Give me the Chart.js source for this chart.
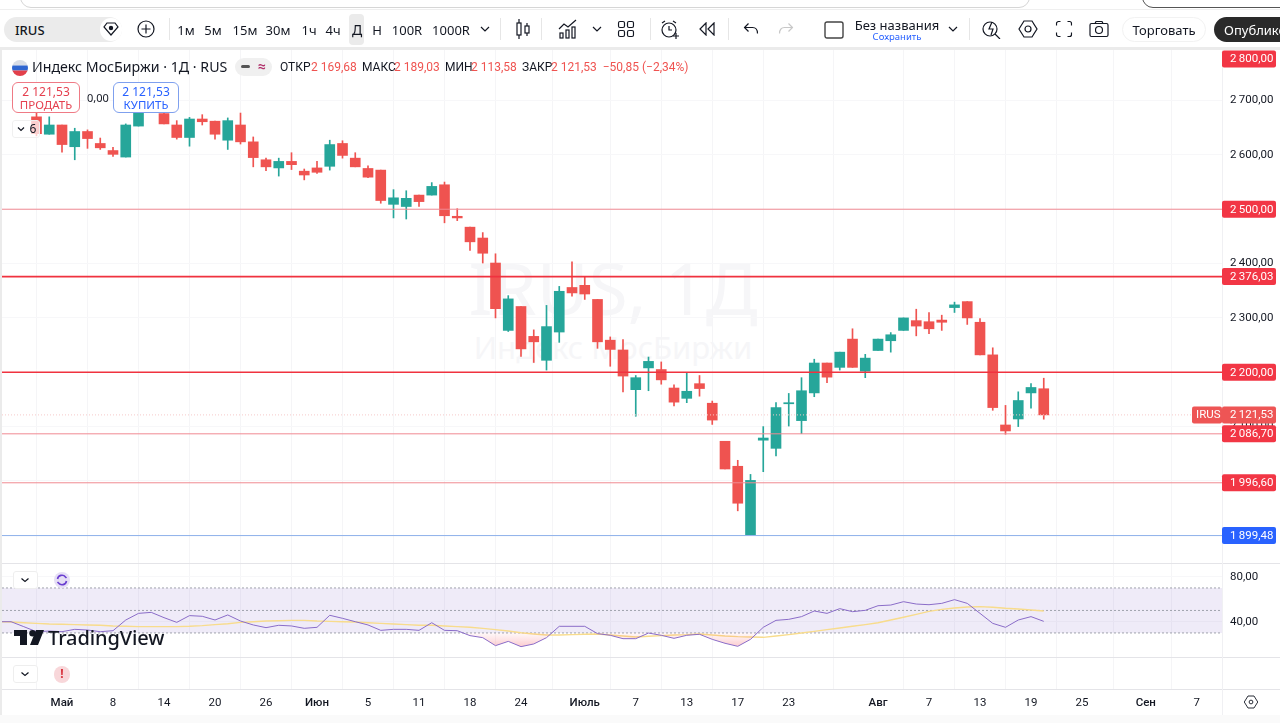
<!DOCTYPE html>
<html lang="ru">
<head>
<meta charset="utf-8">
<title>IRUS</title>
<script src="https://cdn.jsdelivr.net/npm/chart.js@4"></script>
<style>
  html, body { margin: 0; padding: 0; width: 1280px; height: 723px; overflow: hidden; background: #fff; }
  body { font-family: "Noto Sans", Roboto, sans-serif; color: #131722; position: relative; }
  canvas#chart { position: absolute; left: 0; top: 50px; z-index: 2; }
  .abs { position: absolute; }
  .t { position: absolute; transform: translate(-50%, -50%); white-space: nowrap; font-size: 13px; line-height: 1; z-index: 5; }
  .l { position: absolute; transform: translateY(-50%); white-space: nowrap; font-size: 12px; line-height: 1; z-index: 5; }
  .ic { position: absolute; transform: translate(-50%, -50%); z-index: 5; fill: none; stroke: #131722; stroke-width: 1.2; }
  .sep { position: absolute; top: 18px; width: 1px; height: 22px; background: #e6e6e6; z-index: 5; }
  .wm { position: absolute; transform: translate(-50%, -50%); white-space: nowrap; color: #f6f6f8; z-index: 1; }
  .red { color: #ef5350; }
  .ohlc { font-family: Roboto, sans-serif; }
  .order { position: absolute; top: 82px; height: 31px; background: #fff; border-radius: 6px; z-index: 5; box-sizing: border-box; text-align: center; font-size: 11.5px; line-height: 13px; padding-top: 2px; }
</style>
</head>
<body>

<!-- browser strip -->
<div class="abs" style="left:20px;top:-14px;width:1008px;height:20px;border:1px solid #d6d6d6;border-radius:12px"></div>
<div class="abs" style="left:1142px;top:-14px;width:160px;height:20px;border:1px solid #555;border-radius:12px"></div>
<div class="abs" style="left:0;top:9px;width:1280px;height:1px;background:#efefef"></div>
<div class="abs" style="left:0;top:47px;width:1280px;height:3px;background:#ebebeb"></div>
<div class="abs" style="left:0;top:47px;width:2px;height:676px;background:#ebebeb;z-index:3"></div>

<!-- toolbar -->
<div class="abs" style="left:4px;top:17px;width:118px;height:25px;background:#ebebeb;border-radius:13px"></div>
<div class="l" style="left:15px;top:29.5px;font-size:13px;font-weight:500">IRUS</div>
<div class="abs" style="left:100px;top:18px;width:22px;height:23px;background:#fff;border-radius:12px;z-index:4"></div>
<svg class="ic" style="left:111px;top:29px" width="16" height="14" viewBox="0 0 16 14"><path d="M4 1h8l3 4-7 8-7-8z"/><circle cx="8" cy="6" r="1.6" fill="#131722"/></svg>
<svg class="ic" style="left:146px;top:29px" width="18" height="18" viewBox="0 0 18 18"><circle cx="9" cy="9" r="8"/><path d="M9 4.5v9M4.5 9h9"/></svg>
<div class="sep" style="left:169px"></div>
<div class="t" style="left:186px;top:29.5px">1м</div>
<div class="t" style="left:213px;top:29.5px">5м</div>
<div class="t" style="left:245px;top:29.5px">15м</div>
<div class="t" style="left:278px;top:29.5px">30м</div>
<div class="t" style="left:309px;top:29.5px">1ч</div>
<div class="t" style="left:333px;top:29.5px">4ч</div>
<div class="abs" style="left:349px;top:14px;width:15px;height:31px;background:#ebebeb;border-radius:4px"></div>
<div class="t" style="left:357px;top:30px;font-size:14px">Д</div>
<div class="t" style="left:377px;top:29.5px">Н</div>
<div class="t" style="left:407px;top:29.5px">100R</div>
<div class="t" style="left:451px;top:29.5px">1000R</div>
<svg class="ic" style="left:485px;top:29px" width="10" height="6" viewBox="0 0 10 6"><path d="M1 1l4 4 4-4"/></svg>
<div class="sep" style="left:500px"></div>
<svg class="ic" style="left:523px;top:29px" width="16" height="22" viewBox="0 0 16 22"><path d="M4 1v20M12 5v13"/><rect x="2" y="5" width="4" height="12" fill="#fff"/><rect x="10" y="8" width="4" height="7" fill="#fff"/></svg>
<div class="sep" style="left:541px"></div>
<svg class="ic" style="left:568px;top:29px" width="20" height="20" viewBox="0 0 20 20"><path d="M1 10l5-5 4 3 8-7"/><rect x="2" y="14" width="3" height="5"/><rect x="8" y="11" width="3" height="8"/><rect x="14" y="8" width="3" height="11"/></svg>
<svg class="ic" style="left:597px;top:29px" width="10" height="6" viewBox="0 0 10 6"><path d="M1 1l4 4 4-4"/></svg>
<svg class="ic" style="left:626px;top:29px" width="17" height="17" viewBox="0 0 17 17"><rect x="1" y="1" width="6" height="6" rx="1.5"/><rect x="10" y="1" width="6" height="6" rx="1.5"/><rect x="1" y="10" width="6" height="6" rx="1.5"/><rect x="10" y="10" width="6" height="6" rx="1.5"/></svg>
<div class="sep" style="left:650px"></div>
<svg class="ic" style="left:670px;top:30px" width="20" height="20" viewBox="0 0 20 20"><circle cx="9" cy="10" r="7"/><path d="M9 6v4h3M2 3l3-2M16 3l-3-2M13 16h6M16 13v6"/></svg>
<svg class="ic" style="left:707px;top:29px" width="16" height="14" viewBox="0 0 16 14"><path d="M7 1L1 7l6 6zM15 1L9 7l6 6z"/></svg>
<div class="sep" style="left:728px"></div>
<svg class="ic" style="left:751px;top:29px" width="15" height="13" viewBox="0 0 15 13"><path d="M5 1L1 5l4 4M1 5h8c3 0 5 2 5 6"/></svg>
<svg class="ic" style="left:786px;top:29px;stroke:#c8c8c8" width="15" height="13" viewBox="0 0 15 13"><path d="M10 1l4 4-4 4M14 5H6c-3 0-5 2-5 6"/></svg>
<svg class="ic" style="left:834px;top:30px;stroke:#444;stroke-width:1.4" width="20" height="18" viewBox="0 0 20 18"><rect x="1" y="1" width="18" height="16" rx="2"/></svg>
<div class="t" style="left:897px;top:25px">Без названия</div>
<div class="t" style="left:897px;top:37px;font-size:9.5px;color:#2962ff">Сохранить</div>
<svg class="ic" style="left:953px;top:29px" width="10" height="6" viewBox="0 0 10 6"><path d="M1 1l4 4 4-4"/></svg>
<div class="sep" style="left:969px"></div>
<svg class="ic" style="left:992px;top:29px" width="20" height="20" viewBox="0 0 20 20"><circle cx="8" cy="10" r="7"/><path d="M13 15l5 5M10 3L7 10h4l-2 6"/></svg>
<svg class="ic" style="left:1028px;top:29px" width="20" height="20" viewBox="0 0 20 20"><path d="M6 2h8l5 8-5 8H6l-5-8z"/><circle cx="10" cy="10" r="3"/></svg>
<svg class="ic" style="left:1064px;top:29px" width="17" height="17" viewBox="0 0 17 17"><path d="M1 5V3a2 2 0 0 1 2-2h2M12 1h2a2 2 0 0 1 2 2v2M16 12v2a2 2 0 0 1-2 2h-2M5 16H3a2 2 0 0 1-2-2v-2"/></svg>
<svg class="ic" style="left:1099px;top:29px" width="20" height="17" viewBox="0 0 20 17"><rect x="1" y="3" width="18" height="13" rx="1.5"/><circle cx="10" cy="9.5" r="3.5"/><path d="M6 3l1-2h6l1 2"/></svg>
<div class="abs" style="left:1122px;top:17px;width:84px;height:25px;border:1px solid #f2f2f2;border-radius:13px;box-sizing:border-box"></div>
<div class="t" style="left:1164px;top:29.5px">Торговать</div>
<div class="abs" style="left:1214px;top:17px;width:80px;height:25px;background:#2a2a2a;border-radius:13px;z-index:4"></div>
<div class="l" style="left:1224px;top:29.5px;color:#fff;font-size:13px">Опублико</div>

<!-- watermark -->
<div class="wm" style="left:613px;top:287px;font-size:71px">IRUS, 1Д</div>
<div class="wm" style="left:613px;top:347px;font-size:31px">Индекс МосБиржи</div>

<!-- legend -->
<svg class="abs" style="left:12px;top:60px;z-index:5" width="16" height="16" viewBox="0 0 16 16"><clipPath id="fl"><circle cx="8" cy="8" r="8"/></clipPath><g clip-path="url(#fl)"><rect width="16" height="5.5" fill="#d8dde6"/><rect y="5.5" width="16" height="5" fill="#2f66d0"/><rect y="10.5" width="16" height="6" fill="#e2404a"/></g></svg>
<div class="l" style="left:32px;top:67px;font-size:14.2px">Индекс МосБиржи · 1Д · RUS</div>
<div class="abs" style="left:235px;top:58px;width:37px;height:18px;background:#f0f0f0;border-radius:9px;z-index:4"></div>
<div class="abs" style="left:241px;top:65px;width:9px;height:3px;background:#555;border-radius:2px;z-index:5"></div>
<div class="t" style="left:262px;top:66px;font-size:14px;color:#b0306a;font-weight:700">≈</div>
<div class="l ohlc" style="left:280px;top:67px">ОТКР</div><div class="l ohlc red" style="left:311px;top:67px">2 169,68</div>
<div class="l ohlc" style="left:362px;top:67px">МАКС</div><div class="l ohlc red" style="left:394px;top:67px">2 189,03</div>
<div class="l ohlc" style="left:445px;top:67px">МИН</div><div class="l ohlc red" style="left:471px;top:67px">2 113,58</div>
<div class="l ohlc" style="left:522px;top:67px">ЗАКР</div><div class="l ohlc red" style="left:551px;top:67px">2 121,53 &nbsp;−50,85 (−2,34%)</div>

<!-- sell / buy -->
<div class="order" style="left:12px;width:68px;border:1px solid #ef7a85;color:#e5404f"><span style="font-size:12px">2 121,53</span><br>ПРОДАТЬ</div>
<div class="l" style="left:87px;top:97px;font-size:11px">0,00</div>
<div class="order" style="left:113px;width:66px;border:1px solid #7fa0ee;color:#2962ff"><span style="font-size:12px">2 121,53</span><br>КУПИТЬ</div>
<div class="abs" style="left:12px;top:120px;width:28px;height:18px;background:rgba(255,255,255,.72);border:1px solid #f0f0f0;box-sizing:border-box;border-radius:3px;z-index:5"></div>
<svg class="ic" style="left:21px;top:129px" width="8" height="5" viewBox="0 0 8 5"><path d="M1 1l3 3 3-3"/></svg>
<div class="t" style="left:33px;top:129px;font-size:12px">6</div>

<!-- pane controls -->
<div class="abs" style="left:13px;top:571px;width:25px;height:18px;background:#fff;border:1px solid #eee;box-sizing:border-box;border-radius:3px;z-index:5"></div>
<svg class="ic" style="left:25px;top:580px" width="9" height="5" viewBox="0 0 9 5"><path d="M1 1l3.5 3 3.5-3"/></svg>
<div class="abs" style="left:54px;top:572px;width:16px;height:16px;background:#e5def5;border-radius:8px;z-index:4"></div>
<svg class="ic" style="left:62px;top:580px;stroke:#6a3fd0;stroke-width:1.6" width="12" height="12" viewBox="0 0 12 12"><path d="M1.5 5a4.5 4.5 0 0 1 8-2l1 1M10.5 7a4.5 4.5 0 0 1-8 2l-1-1"/></svg>
<div class="abs" style="left:13px;top:665px;width:25px;height:18px;background:#fff;border:1px solid #eee;box-sizing:border-box;border-radius:3px;z-index:5"></div>
<svg class="ic" style="left:25px;top:674px" width="9" height="5" viewBox="0 0 9 5"><path d="M1 1l3.5 3 3.5-3"/></svg>
<div class="abs" style="left:54px;top:666px;width:16px;height:17px;background:#f8d7da;border-radius:8px;z-index:4"></div>
<div class="t" style="left:62px;top:674px;font-size:12px;font-weight:700;color:#d8343f">!</div>

<!-- logo -->
<svg class="abs" style="left:14px;top:630px;z-index:5" width="30" height="15" viewBox="0 0 30 15"><path d="M0 0h13v15H6V6H0zM16 15L22 0h8l-6 15z" fill="#131722"/><circle cx="18.5" cy="3.2" r="3.2" fill="#131722"/></svg>
<div class="l" style="left:48px;top:638px;font-size:20px;font-weight:500;letter-spacing:-.1px">TradingView</div>

<!-- bottom right settings -->
<svg class="ic" style="left:1251px;top:702px" width="15" height="15" viewBox="0 0 20 20"><path d="M6 2h8l5 8-5 8H6l-5-8z"/><circle cx="10" cy="10" r="2.5"/></svg>
<div class="abs" style="left:0;top:715px;width:1280px;height:8px;background:#fafafa;z-index:3"></div>

<canvas id="chart" width="1280" height="673"></canvas>

<script>
// свечи, первая свеча имеет номер firstBar
const firstBar = -2;
const opens = [2670,2638,2655,2615,2643,2621,2608,2596,2653,2680,2676,2655,2632,2666,2662,2627,2655,2624,2591,2576,2588,2570,2576,2579,2621,2594,2575,2572,2509,2505,2526,2526,2545,2487,2467,2447,2401,2277,2321,2266,2222,2274,2356,2360,2334,2259,2241,2168,2208,2205,2171,2152,2179,2143,2073,2027,1901,2075,2060,2142,2111,2162,2217,2209,2261,2202,2240,2258,2277,2295,2293,2296,2319,2330,2292,2232,2103,2114,2162,2169.68];
const highs = [2677,2670,2655,2649,2646,2631,2614,2657,2681,2697,2690,2663,2669,2674,2662,2668,2677,2633,2594,2594,2604,2574,2588,2627,2626,2604,2580,2572,2536,2534,2526,2549,2550,2501,2467,2457,2418,2341,2321,2278,2323,2358,2403,2375,2334,2265,2260,2194,2228,2219,2177,2199,2194,2147,2073,2038,2012,2100,2144,2161,2190,2224,2217,2237,2280,2233,2261,2273,2300,2316,2310,2305,2329,2330,2299,2245,2139,2164,2179,2189.03];
const lows = [2635,2638,2605,2591,2612,2610,2597,2596,2653,2678,2657,2629,2616,2655,2629,2610,2620,2578,2571,2561,2573,2554,2566,2572,2594,2578,2558,2511,2484,2482,2505,2526,2475,2479,2424,2401,2300,2275,2229,2218,2204,2255,2340,2334,2244,2211,2164,2119,2166,2178,2138,2144,2156,2104,2022,1945,1901,2017,2046,2101,2087,2155,2181,2204,2209,2190,2240,2237,2277,2267,2271,2277,2310,2288,2232,2130,2086,2100,2134,2113.58];
const closes = [2639,2655,2619,2643,2630,2613,2601,2655,2677,2692,2657,2632,2666,2661,2638,2663,2624,2595,2578,2588,2582,2563,2568,2619,2599,2578,2559,2516,2521,2520,2514,2542,2488,2484,2440,2419,2317,2335,2243,2256,2284,2349,2346,2344,2256,2242,2193,2190,2220,2186,2145,2165,2170,2112,2022,1959,2001,2079,2135,2144,2166,2217,2191,2237,2209,2226,2261,2269,2300,2285,2280,2292,2324,2300,2232,2135,2092,2148,2172,2121.53];

// RSI и его скользящая, первая точка имеет номер firstRsiBar
const firstRsiBar = -5;
const rsiValues = [40,40,35.6,31.1,31.7,31.1,33.2,32.6,31.1,32,41.5,47.4,48.3,43.6,39.4,45.4,44.8,41.5,46,40.6,37.1,34.7,36.8,36.2,34.1,35,45.7,43,40,37.1,32.3,33.2,33.2,32.3,39.1,32.3,32,27.6,25.8,18.7,22.5,17.8,20.2,25.8,35.9,35.9,35.9,29.4,27.9,24.9,24.9,29.9,27.9,25.2,27.9,28.8,24.3,20.8,18.1,24.3,35,41.2,42.1,44.5,49.5,47.4,51.6,48.9,50.1,54.2,54.8,57.8,55.7,55.1,56.3,59.6,56.3,47.4,38.5,35,41.5,44.5,40.3];
const rsiMa = [40,39.7,39.1,38.5,37.9,37.7,37.4,37.1,36.8,36.2,35.9,35.6,35.6,35.6,35.6,35.9,36.5,37.4,38.2,39.4,40,40.6,40.9,41.2,41.2,40.6,40.3,40,39.7,39.1,38.5,37.9,37.4,36.8,36.8,36.2,35.6,35,34.1,32.9,31.7,30.2,29.1,28.2,28.2,28.5,28.8,29.1,28.2,27.3,26.4,27,27.6,28.2,28.5,29.1,28.2,27.3,26.7,26.4,26.1,27.3,28.5,29.9,31.4,32.9,34.4,35.9,37.4,39.1,41.5,43.9,46.5,49.2,51,52.2,53.1,53.4,52.8,51.9,51.3,50.4,49.5];
const rsiBands = [70, 50, 30];

// ось времени
const tickBars = [0,4,8,12,16,20,24,28,32,36,41,45,49,53,57,64,68,72,76,80,85,89];
const tickLabels = ["Май","8","14","20","26","Июн","5","11","18","24","Июль","7","13","17","23","Авг","7","13","19","25","Сен","7"];
const monthLabels = ["Май","Июн","Июль","Авг","Сен"];

// ценовая ось и уровни
const priceTicks = [1900,2000,2100,2200,2300,2400,2500,2600,2700];
const rsiTicks = [40, 80];
const thinLevels = [2500, 2086.7, 1996.6];
const boldLevels = [2376.03, 2200];
const blueLevels = [1899.48];
const lastClose = 2121.53;
const redBadges = [2800, 2500, 2376.03, 2200, 2086.7, 1996.6];
const blueBadges = [1899.48];

const UP = "#26a69a";
const DOWN = "#ef5350";
const xMin = -4.706;
const xMax = 90.98;
const FONT = "Roboto, 'Noto Sans', sans-serif";

function fmt(v) {
  const parts = v.toFixed(2).split(".");
  const head = parts[0].length > 3 ? parts[0].slice(0, -3) + "\u2009" + parts[0].slice(-3) : parts[0];
  return head + "," + parts[1];
}

function noPadding(axis) {
  axis.paddingTop = 0;
  axis.paddingBottom = 0;
  axis.paddingLeft = 0;
  axis.paddingRight = 0;
}

function rightAxisFit(axis) {
  axis.width = 58;
  noPadding(axis);
}

function levelLine(value, color, width, dash) {
  return {
    type: "line", yAxisID: "y", order: 0, borderColor: color, borderWidth: width, borderDash: dash || [],
    pointRadius: 0, data: [{ x: xMin, y: value }, { x: xMax, y: value }]
  };
}

function rsiSeries(values, options) {
  return Object.assign({
    type: "line", yAxisID: "rsi", pointRadius: 0, tension: 0,
    data: values.map((v, i) => ({ x: firstRsiBar + i, y: v }))
  }, options);
}

const candleColors = opens.map((o, i) => (closes[i] >= o ? UP : DOWN));
const canvas = document.getElementById("chart");
const ctx = canvas.getContext("2d");

// розовая заливка зоны перепроданности
const oversold = ctx.createLinearGradient(0, 583, 0, 600);
oversold.addColorStop(0, "rgba(242,54,69,0.03)");
oversold.addColorStop(1, "rgba(242,54,69,0.30)");

// плашки цен на правой оси
const badgePlugin = {
  id: "badges",
  afterDraw(chart) {
    const c = chart.ctx;
    const y = chart.scales.y;
    const left = chart.chartArea.right;
    function badge(value, color, x, w, text, pad) {
      const py = Math.max(y.getPixelForValue(value), y.top + 9);
      c.fillStyle = color;
      c.beginPath();
      c.roundRect(x, py - 8.5, w, 17, 2);
      c.fill();
      c.fillStyle = "#fff";
      c.font = "11.5px " + FONT;
      c.textAlign = "left";
      c.textBaseline = "middle";
      c.fillText(text, x + pad, py + 0.5);
    }
    badge(lastClose, "#ee5555", left - 30, 30, "IRUS", 4);
    badge(lastClose, "#ee5555", left, 54, fmt(lastClose), 8);
    redBadges.forEach(v => badge(v, "#f23645", left, 54, fmt(v), 8));
    blueBadges.forEach(v => badge(v, "#2962ff", left, 54, fmt(v), 8));
  }
};

// линии между панелями и правая граница
const panesPlugin = {
  id: "panes",
  afterDatasetsDraw(chart) {
    const c = chart.ctx;
    const a = chart.chartArea;
    c.save();
    c.strokeStyle = "#e4e4e8";
    c.lineWidth = 1;
    [chart.scales.y.bottom, chart.scales.rsi.bottom, a.bottom].forEach(py => {
      c.beginPath();
      c.moveTo(0, Math.round(py) + 0.5);
      c.lineTo(1280, Math.round(py) + 0.5);
      c.stroke();
    });
    c.strokeStyle = "#f0f0f3";
    c.beginPath();
    c.moveTo(a.right + 0.5, 0);
    c.lineTo(a.right + 0.5, 673);
    c.stroke();
    c.restore();
  }
};

const datasets = [
  ...thinLevels.map(v => levelLine(v, "#f08a92", 1)),
  ...boldLevels.map(v => levelLine(v, "#f0323f", 1.6)),
  ...blueLevels.map(v => levelLine(v, "#8db0ea", 1)),
  levelLine(lastClose, "#f6c9c9", 1, [1, 2]),
  {
    type: "bar", yAxisID: "y", order: 1, grouped: false, barThickness: 10,
    backgroundColor: candleColors,
    data: opens.map((o, i) => ({ x: firstBar + i, y: [o, closes[i]] }))
  },
  {
    type: "bar", yAxisID: "y", order: 2, grouped: false, barThickness: 1,
    backgroundColor: candleColors,
    data: lows.map((l, i) => ({ x: firstBar + i, y: [l, highs[i]] }))
  },
  // RSI: фон зоны, уровни, линии
  {
    type: "line", yAxisID: "rsi", order: 9, pointRadius: 0, borderWidth: 0,
    fill: { target: { value: rsiBands[2] }, above: "rgba(126,87,194,0.12)" },
    data: [{ x: xMin, y: rsiBands[0] }, { x: xMax, y: rsiBands[0] }]
  },
  ...rsiBands.map(v => ({
    type: "line", yAxisID: "rsi", order: 8, pointRadius: 0, borderWidth: 1, borderDash: [2, 2], borderColor: "#a0a3ad",
    data: [{ x: xMin, y: v }, { x: xMax, y: v }]
  })),
  rsiSeries(rsiMa, { order: 7, borderColor: "#f8dc8c", borderWidth: 1.4 }),
  rsiSeries(rsiValues, {
    order: 6, borderColor: "#8a6cc8", borderWidth: 1,
    fill: { target: { value: rsiBands[2] }, below: oversold, above: "rgba(0,0,0,0)" }
  })
];

new Chart(ctx, {
  data: { datasets },
  plugins: [panesPlugin, badgePlugin],
  options: {
    responsive: false,
    animation: false,
    parsing: true,
    layout: { padding: { left: 2, right: 0, top: 0, bottom: 8 } },
    plugins: { legend: { display: false }, tooltip: { enabled: false } },
    scales: {
      x: {
        type: "linear",
        position: "bottom",
        min: xMin,
        max: xMax,
        offset: false,
        border: { display: false },
        grid: { color: "#f5f5f7", drawTicks: false },
        afterFit: axis => { axis.height = 26; noPadding(axis); },
        afterBuildTicks: axis => { axis.ticks = tickBars.map(value => ({ value })); },
        ticks: {
          autoSkip: false,
          maxRotation: 0,
          padding: 7,
          color: "#131722",
          font: c => {
            const label = tickLabels[tickBars.indexOf(c.tick ? c.tick.value : -99)];
            return { family: FONT, size: 11.5, weight: monthLabels.includes(label) ? "500" : "400" };
          },
          callback: value => tickLabels[tickBars.indexOf(value)]
        }
      },
      y: {
        type: "linear",
        position: "right",
        stack: "panes",
        stackWeight: 513,
        min: 1849,
        max: 2793,
        border: { display: false },
        grid: { color: "#f7f7f9", drawTicks: false },
        afterFit: rightAxisFit,
        afterBuildTicks: axis => { axis.ticks = priceTicks.map(value => ({ value })); },
        ticks: { padding: 8, color: "#131722", font: { family: FONT, size: 11.5 }, callback: v => fmt(v) }
      },
      rsi: {
        type: "linear",
        position: "right",
        stack: "panes",
        stackWeight: 94,
        min: 8.6,
        max: 92.2,
        border: { display: false },
        grid: { color: "#f7f7f9", drawTicks: false },
        afterFit: rightAxisFit,
        afterBuildTicks: axis => { axis.ticks = rsiTicks.map(value => ({ value })); },
        ticks: { padding: 8, color: "#131722", font: { family: FONT, size: 11.5 }, callback: v => fmt(v) }
      },
      pane3: {
        type: "linear",
        position: "right",
        stack: "panes",
        stackWeight: 32,
        border: { display: false },
        grid: { display: false },
        afterFit: rightAxisFit,
        ticks: { display: false }
      }
    }
  }
});
</script>
</body>
</html>
